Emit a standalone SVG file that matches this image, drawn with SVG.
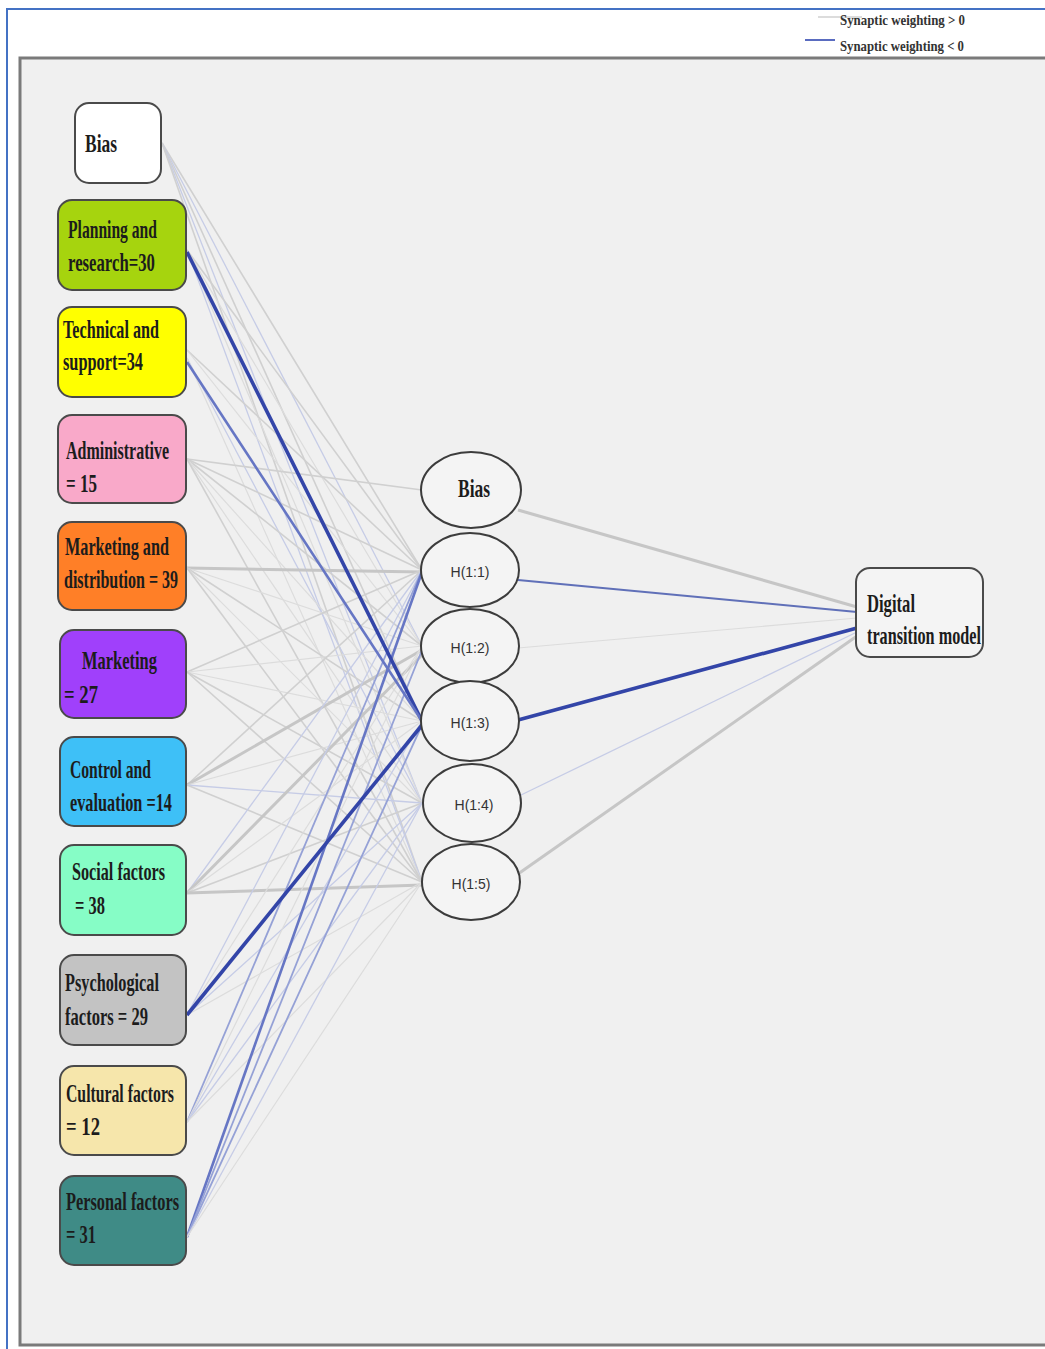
<svg xmlns="http://www.w3.org/2000/svg" width="1045" height="1349" viewBox="0 0 1045 1349">
<style>
.lbl{font-family:"Liberation Serif","Times New Roman",serif;font-size:25px;font-weight:bold;fill:#1c1c1c}
.hl{font-family:"Liberation Sans",Arial,sans-serif;font-size:14px;fill:#333;text-anchor:middle}
.lg{font-family:"Liberation Serif","Times New Roman",serif;font-size:15px;font-weight:bold;fill:#333}
.box{stroke:#4a4a4a;stroke-width:2}
.ell{fill:#f4f4f4;stroke:#3c3c3c;stroke-width:2}
.g0{stroke:#dcdcdc;stroke-width:1.2;fill:none}
.g1{stroke:#d0d0d0;stroke-width:1.6;fill:none}
.g2{stroke:#c6c6c6;stroke-width:3;fill:none}
.b0{stroke:#c6cce6;stroke-width:1.3;fill:none}
.b1{stroke:#95a1d6;stroke-width:1.8;fill:none}
.b2{stroke:#6676c4;stroke-width:2.6;fill:none}
.b3{stroke:#3345a8;stroke-width:3.6;fill:none}
</style>
<rect x="0" y="0" width="1045" height="1349" fill="#ffffff"/>
<rect x="20" y="58" width="1030" height="1287" fill="#f0f0f0" stroke="#7a7a7a" stroke-width="3"/>
<line x1="6" y1="9" x2="1045" y2="9" stroke="#4472c4" stroke-width="2"/>
<line x1="7" y1="9" x2="7" y2="1349" stroke="#4472c4" stroke-width="2"/>

<g id="legend">
<line x1="818" y1="17" x2="862" y2="17" stroke="#d0d0d0" stroke-width="1.5"/>
<line x1="805" y1="40" x2="835" y2="40" stroke="#5a6cc0" stroke-width="2"/>
<text class="lg" x="840" y="25" textLength="125" lengthAdjust="spacingAndGlyphs">Synaptic weighting &gt; 0</text>
<text class="lg" x="840" y="51" textLength="124" lengthAdjust="spacingAndGlyphs">Synaptic weighting &lt; 0</text>
</g>

<g id="connectors">
<!-- input Bias -->
<line class="g1" x1="162" y1="143" x2="422" y2="570"/>
<line class="b0" x1="162" y1="143" x2="422" y2="646"/>
<line class="g1" x1="162" y1="143" x2="422" y2="721"/>
<line class="b0" x1="162" y1="143" x2="422" y2="803"/>
<line class="g1" x1="162" y1="143" x2="422" y2="882"/>
<!-- Planning -->
<line class="g1" x1="187" y1="250" x2="422" y2="570"/>
<line class="g0" x1="187" y1="250" x2="422" y2="646"/>
<line class="g0" x1="187" y1="250" x2="422" y2="803"/>
<line class="b0" x1="187" y1="250" x2="422" y2="882"/>
<!-- Technical -->
<line class="g1" x1="187" y1="350" x2="422" y2="570"/>
<line class="g0" x1="187" y1="350" x2="422" y2="646"/>
<line class="b0" x1="187" y1="358" x2="422" y2="803"/>
<line class="g0" x1="187" y1="358" x2="422" y2="882"/>
<!-- Administrative -->
<line class="g1" x1="187" y1="459" x2="422" y2="490"/>
<line class="g1" x1="187" y1="459" x2="422" y2="570"/>
<line class="g1" x1="187" y1="459" x2="422" y2="646"/>
<line class="g0" x1="187" y1="459" x2="422" y2="721"/>
<line class="g0" x1="187" y1="459" x2="422" y2="803"/>
<line class="g1" x1="187" y1="459" x2="422" y2="882"/>
<!-- Marketing and distribution -->
<line class="g2" x1="187" y1="568" x2="422" y2="572"/>
<line class="g0" x1="187" y1="568" x2="422" y2="646"/>
<line class="g1" x1="187" y1="568" x2="422" y2="721"/>
<line class="g0" x1="187" y1="568" x2="422" y2="803"/>
<line class="g1" x1="187" y1="568" x2="422" y2="882"/>
<!-- Marketing -->
<line class="g1" x1="187" y1="672" x2="422" y2="570"/>
<line class="g0" x1="187" y1="672" x2="422" y2="646"/>
<line class="g0" x1="187" y1="672" x2="422" y2="721"/>
<line class="g1" x1="187" y1="672" x2="422" y2="803"/>
<line class="g1" x1="187" y1="672" x2="422" y2="882"/>
<!-- Control -->
<line class="g1" x1="187" y1="785" x2="422" y2="570"/>
<line class="g2" x1="187" y1="785" x2="422" y2="650"/>
<line class="g0" x1="187" y1="785" x2="422" y2="721"/>
<line class="b0" x1="187" y1="785" x2="422" y2="803"/>
<line class="g1" x1="187" y1="785" x2="422" y2="882"/>
<!-- Social -->
<line class="b0" x1="187" y1="893" x2="422" y2="570"/>
<line class="g2" x1="187" y1="893" x2="422" y2="655"/>
<line class="g0" x1="187" y1="893" x2="422" y2="721"/>
<line class="g1" x1="187" y1="893" x2="422" y2="803"/>
<line class="g2" x1="187" y1="893" x2="422" y2="885"/>
<!-- Psychological -->
<line class="b0" x1="187" y1="1015" x2="422" y2="570"/>
<line class="g0" x1="187" y1="1015" x2="422" y2="646"/>
<line class="b0" x1="187" y1="1015" x2="422" y2="803"/>
<line class="g0" x1="187" y1="1015" x2="422" y2="882"/>
<!-- Cultural -->
<line class="b1" x1="187" y1="1122" x2="422" y2="570"/>
<line class="g0" x1="187" y1="1122" x2="422" y2="646"/>
<line class="b0" x1="187" y1="1122" x2="422" y2="721"/>
<line class="b0" x1="187" y1="1122" x2="422" y2="803"/>
<line class="g0" x1="187" y1="1122" x2="422" y2="882"/>
<!-- Personal -->
<line class="b2" x1="187" y1="1237" x2="422" y2="572"/>
<line class="b1" x1="187" y1="1237" x2="422" y2="650"/>
<line class="b1" x1="187" y1="1237" x2="422" y2="725"/>
<line class="b0" x1="187" y1="1237" x2="422" y2="803"/>
<line class="g0" x1="187" y1="1237" x2="422" y2="882"/>
<!-- strong negative lines on top -->
<line class="b3" x1="187" y1="252" x2="422" y2="721"/>
<line class="b2" x1="187" y1="362" x2="422" y2="721"/>
<line class="b3" x1="187" y1="1015" x2="422" y2="725"/>
<!-- hidden to output -->
<line class="g2" x1="518" y1="510" x2="857" y2="607"/>
<line x1="518" y1="580" x2="857" y2="612" stroke="#6070b8" stroke-width="2"/>
<line class="g0" x1="518" y1="648" x2="857" y2="618"/>
<line class="b3" x1="518" y1="720" x2="857" y2="628" stroke-width="4"/>
<line class="b0" x1="521" y1="795" x2="857" y2="632"/>
<line class="g2" x1="518" y1="874" x2="857" y2="636"/>
</g>

<g id="in-bias"><rect class="box" x="75" y="103" width="86" height="80" rx="14" fill="#ffffff"/>
<text class="lbl" x="85" y="152" textLength="32" lengthAdjust="spacingAndGlyphs">Bias</text></g>
<g id="in-planning"><rect class="box" x="58" y="200" width="128" height="90" rx="14" fill="#a6d40e"/>
<text class="lbl" x="68" y="238" textLength="89" lengthAdjust="spacingAndGlyphs">Planning and</text>
<text class="lbl" x="68" y="271" textLength="87" lengthAdjust="spacingAndGlyphs">research=30</text></g>
<g id="in-technical"><rect class="box" x="58" y="307" width="128" height="90" rx="14" fill="#ffff00"/>
<text class="lbl" x="63" y="338" textLength="96" lengthAdjust="spacingAndGlyphs">Technical and</text>
<text class="lbl" x="63" y="370" textLength="80" lengthAdjust="spacingAndGlyphs">support=34</text></g>
<g id="in-admin"><rect class="box" x="58" y="415" width="128" height="88" rx="14" fill="#f9a9c9"/>
<text class="lbl" x="66" y="459" textLength="103" lengthAdjust="spacingAndGlyphs">Administrative</text>
<text class="lbl" x="66" y="492" textLength="31" lengthAdjust="spacingAndGlyphs">= 15</text></g>
<g id="in-mktdist"><rect class="box" x="58" y="522" width="128" height="88" rx="14" fill="#ff7f27"/>
<text class="lbl" x="65" y="555" textLength="104" lengthAdjust="spacingAndGlyphs">Marketing and</text>
<text class="lbl" x="64" y="588" textLength="114" lengthAdjust="spacingAndGlyphs">distribution = 39</text></g>
<g id="in-marketing"><rect class="box" x="60" y="630" width="126" height="88" rx="14" fill="#a040fb"/>
<text class="lbl" x="82" y="669" textLength="75" lengthAdjust="spacingAndGlyphs">Marketing</text>
<text class="lbl" x="64" y="703" textLength="34" lengthAdjust="spacingAndGlyphs">= 27</text></g>
<g id="in-control"><rect class="box" x="60" y="737" width="126" height="89" rx="14" fill="#3ec0f7"/>
<text class="lbl" x="70" y="778" textLength="81" lengthAdjust="spacingAndGlyphs">Control and</text>
<text class="lbl" x="70" y="811" textLength="102" lengthAdjust="spacingAndGlyphs">evaluation =14</text></g>
<g id="in-social"><rect class="box" x="60" y="845" width="126" height="90" rx="14" fill="#86fdc6"/>
<text class="lbl" x="72" y="880" textLength="93" lengthAdjust="spacingAndGlyphs">Social factors</text>
<text class="lbl" x="75" y="914" textLength="30" lengthAdjust="spacingAndGlyphs">= 38</text></g>
<g id="in-psych"><rect class="box" x="60" y="955" width="126" height="90" rx="14" fill="#c3c3c3"/>
<text class="lbl" x="65" y="991" textLength="94" lengthAdjust="spacingAndGlyphs">Psychological</text>
<text class="lbl" x="65" y="1025" textLength="83" lengthAdjust="spacingAndGlyphs">factors = 29</text></g>
<g id="in-cultural"><rect class="box" x="60" y="1066" width="126" height="89" rx="14" fill="#f6e6ab"/>
<text class="lbl" x="66" y="1102" textLength="108" lengthAdjust="spacingAndGlyphs">Cultural factors</text>
<text class="lbl" x="66" y="1135" textLength="34" lengthAdjust="spacingAndGlyphs">= 12</text></g>
<g id="in-personal"><rect class="box" x="60" y="1176" width="126" height="89" rx="14" fill="#3f8b86"/>
<text class="lbl" x="66" y="1210" textLength="113" lengthAdjust="spacingAndGlyphs">Personal factors</text>
<text class="lbl" x="66" y="1243" textLength="30" lengthAdjust="spacingAndGlyphs">= 31</text></g>

<g id="h-bias"><ellipse class="ell" cx="471" cy="490" rx="50" ry="38"/>
<text class="lbl" x="458" y="497" textLength="32" lengthAdjust="spacingAndGlyphs">Bias</text></g>
<g id="h1"><ellipse class="ell" cx="470" cy="570" rx="49" ry="37"/><text class="hl" x="470" y="577">H(1:1)</text></g>
<g id="h2"><ellipse class="ell" cx="470" cy="646" rx="49" ry="37"/><text class="hl" x="470" y="653">H(1:2)</text></g>
<g id="h3"><ellipse class="ell" cx="470" cy="721" rx="49" ry="40"/><text class="hl" x="470" y="728">H(1:3)</text></g>
<g id="h4"><ellipse class="ell" cx="472" cy="803" rx="49" ry="39"/><text class="hl" x="474" y="810">H(1:4)</text></g>
<g id="h5"><ellipse class="ell" cx="471" cy="882" rx="49" ry="38"/><text class="hl" x="471" y="889">H(1:5)</text></g>

<g id="out"><rect class="box" x="856" y="568" width="127" height="89" rx="14" fill="#f4f4f4"/>
<text class="lbl" x="867" y="612" textLength="48" lengthAdjust="spacingAndGlyphs">Digital</text>
<text class="lbl" x="867" y="644" textLength="114" lengthAdjust="spacingAndGlyphs">transition model</text></g>
</svg>
